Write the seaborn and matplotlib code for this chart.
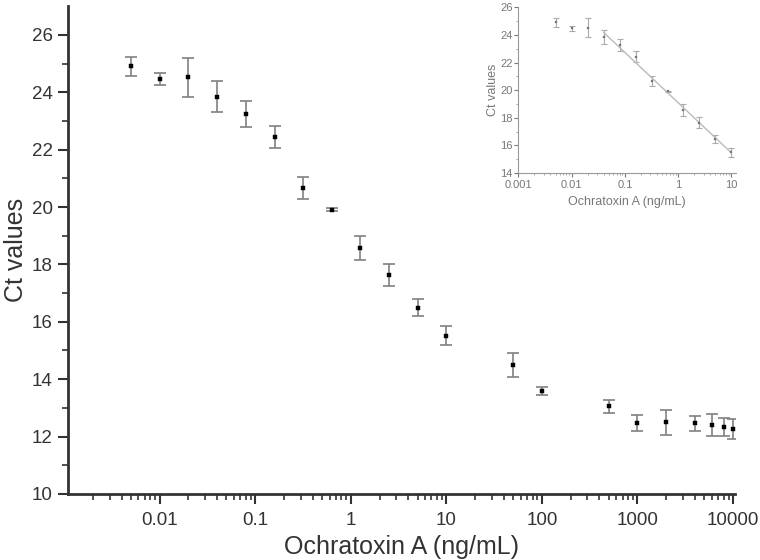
import numpy as np
import pandas as pd
import matplotlib
matplotlib.use('Agg')
import matplotlib.pyplot as plt
import seaborn as sns
from matplotlib.ticker import LogLocator, FixedLocator, NullFormatter

# Data
conc = [0.005, 0.01, 0.02, 0.04, 0.08, 0.16, 0.32, 0.64, 1.25, 2.5, 5, 10,
        50, 100, 500, 1000, 2000, 4000, 6000, 8000, 10000]
ct = [24.90, 24.47, 24.53, 23.85, 23.25, 22.43, 20.67, 19.91, 18.58, 17.63, 16.49, 15.51,
      14.49, 13.59, 13.05, 12.48, 12.49, 12.46, 12.41, 12.33, 12.26]
ct_err = [0.33, 0.21, 0.68, 0.53, 0.45, 0.38, 0.38, 0.05, 0.42, 0.40, 0.30, 0.33,
          0.42, 0.15, 0.24, 0.28, 0.43, 0.27, 0.39, 0.30, 0.34]

df = pd.DataFrame({'conc': conc, 'ct': ct, 'err': ct_err})
inset_df = df[df['conc'] <= 10]
fit_df = inset_df[inset_df['conc'] >= 0.04]

sns.set_style('ticks')
plt.rcParams['font.family'] = ['Liberation Sans', 'DejaVu Sans']

fig = plt.figure(figsize=(7.6, 5.6), dpi=100)

# Main plot
ax = fig.add_axes([0.0895, 0.118, 0.8776, 0.871])
ax.errorbar(df['conc'], df['ct'], yerr=df['err'], fmt='none', ecolor='#808080',
            elinewidth=1.2, capsize=4.5, capthick=1.2)
sns.scatterplot(data=df, x='conc', y='ct', ax=ax, color='black', marker='s',
                s=6, edgecolor='black', linewidth=0.3, zorder=3)
ax.set_xscale('log')
ax.set_xlim(0.0011, 10500)
ax.set_ylim(10, 27)
ax.set_yticks(range(10, 27, 2))
ax.yaxis.set_minor_locator(FixedLocator(range(11, 27, 2)))
ax.set_xticks([0.01, 0.1, 1, 10, 100, 1000, 10000])
ax.set_xticklabels(['0.01', '0.1', '1', '10', '100', '1000', '10000'])
ax.xaxis.set_minor_locator(LogLocator(base=10, subs=np.arange(2, 10), numticks=20))
ax.xaxis.set_minor_formatter(NullFormatter())
ax.set_xlabel('Ochratoxin A (ng/mL)', fontsize=18, color='#333333', labelpad=4)
ax.set_ylabel('Ct values', fontsize=18, color='#333333', labelpad=3)
ax.tick_params(axis='both', which='major', labelsize=13.5, colors='#333333',
               length=7, width=1.5, direction='out')
ax.tick_params(axis='x', which='major', pad=6)
ax.tick_params(axis='y', which='major', pad=4)
ax.tick_params(axis='both', which='minor', length=4, width=1.2, color='#333333')
for side in ['top', 'right']:
    ax.spines[side].set_visible(False)
for side in ['left', 'bottom']:
    ax.spines[side].set_linewidth(2)
    ax.spines[side].set_color('#333333')

# Inset
ins = fig.add_axes([0.682, 0.691, 0.286, 0.296])
ins.errorbar(inset_df['conc'], inset_df['ct'], yerr=inset_df['err'], fmt='none',
             ecolor='#aaaaaa', elinewidth=0.8, capsize=2, capthick=0.8)
sns.scatterplot(data=inset_df, x='conc', y='ct', ax=ins, color='#777777', marker='s',
                s=3, edgecolor='#777777', linewidth=0.2, zorder=3)
slope, intercept = np.polyfit(np.log10(fit_df['conc']), fit_df['ct'], 1)
fit_x = np.array([fit_df['conc'].min(), fit_df['conc'].max()])
sns.lineplot(x=fit_x, y=slope * np.log10(fit_x) + intercept, ax=ins,
             color='#bbbbbb', linewidth=1)
ins.set_xscale('log')
ins.set_xlim(0.001, 12)
ins.set_ylim(14, 26)
ins.set_yticks(range(14, 27, 2))
ins.yaxis.set_minor_locator(FixedLocator(range(15, 26, 2)))
ins.set_xticks([0.001, 0.01, 0.1, 1, 10])
ins.set_xticklabels(['0.001', '0.01', '0.1', '1', '10'])
ins.xaxis.set_minor_locator(LogLocator(base=10, subs=np.arange(2, 10), numticks=20))
ins.xaxis.set_minor_formatter(NullFormatter())
ins.set_xlabel('Ochratoxin A (ng/mL)', fontsize=9, color='#777777', labelpad=4)
ins.set_ylabel('Ct values', fontsize=9, color='#777777', labelpad=1)
ins.tick_params(axis='both', which='major', labelsize=8, colors='#777777',
                length=3, width=0.8, direction='out')
ins.tick_params(axis='x', which='major', pad=2)
ins.tick_params(axis='y', which='major', pad=1)
ins.tick_params(axis='both', which='minor', length=1.5, width=0.6, color='#999999')
for side in ['top', 'right']:
    ins.spines[side].set_visible(False)
for side in ['left', 'bottom']:
    ins.spines[side].set_linewidth(0.8)
    ins.spines[side].set_color('#999999')
ins.patch.set_alpha(0)

plt.savefig('out.png', dpi=100)
